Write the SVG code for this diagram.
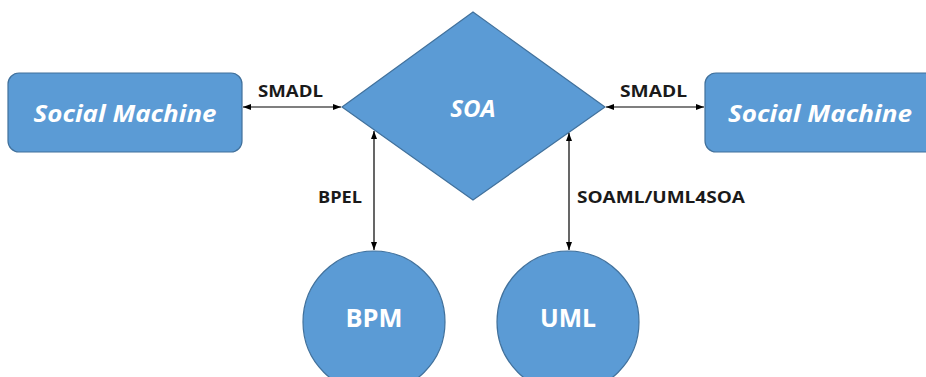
<svg xmlns="http://www.w3.org/2000/svg" width="926" height="377" viewBox="0 0 926 377">
<style>
.shape{fill:#5b9bd5;stroke:#41719c;stroke-width:1.2}
.title{font-family:"Open Sans","Liberation Sans",sans-serif;font-weight:bold;font-style:italic;fill:#fff;text-anchor:middle}
.circ{font-family:"Open Sans","Liberation Sans",sans-serif;font-weight:bold;fill:#fff;text-anchor:middle;font-size:25px}
.lbl{font-family:"Open Sans","Liberation Sans",sans-serif;font-weight:bold;fill:#1a1a1a;font-size:16px}
.conn{stroke:#000;stroke-width:1.2;fill:none;marker-start:url(#arr);marker-end:url(#arr)}
</style>
<defs>
<marker id="arr" viewBox="0 0 8 6" refX="8" refY="3" markerWidth="8" markerHeight="6" markerUnits="userSpaceOnUse" orient="auto-start-reverse">
<path d="M0,0 L8,3 L0,6 z" fill="#000"/>
</marker>
</defs>
<rect width="926" height="377" fill="#fff"/>
<g id="sm-left">
<rect class="shape" x="8" y="73" width="234" height="79" rx="11"/>
<text class="title" x="125" y="122" font-size="23" textLength="183" lengthAdjust="spacingAndGlyphs">Social Machine</text>
</g>
<g id="soa">
<polygon class="shape" points="473,12 605,107 473,200 342,107"/>
<text class="title" x="473" y="117" font-size="24">SOA</text>
</g>
<g id="sm-right">
<rect class="shape" x="705" y="73" width="234" height="79" rx="11"/>
<text class="title" x="820" y="122" font-size="23" textLength="184" lengthAdjust="spacingAndGlyphs">Social Machine</text>
</g>
<g id="bpm">
<circle class="shape" cx="374" cy="322" r="71"/>
<text class="circ" x="374" y="327" textLength="57" lengthAdjust="spacingAndGlyphs">BPM</text>
</g>
<g id="uml">
<circle class="shape" cx="568" cy="322" r="71"/>
<text class="circ" x="568" y="327" textLength="56" lengthAdjust="spacingAndGlyphs">UML</text>
</g>
<g id="connectors">
<line class="conn" x1="243" y1="107" x2="341" y2="107"/>
<line class="conn" x1="606" y1="107" x2="704" y2="107"/>
<line class="conn" x1="374" y1="131" x2="374" y2="250"/>
<line class="conn" x1="569" y1="133" x2="569" y2="250"/>
<text class="lbl" x="258" y="97" textLength="65" lengthAdjust="spacingAndGlyphs">SMADL</text>
<text class="lbl" x="620" y="97" textLength="67" lengthAdjust="spacingAndGlyphs">SMADL</text>
<text class="lbl" x="318" y="203" textLength="44" lengthAdjust="spacingAndGlyphs">BPEL</text>
<text class="lbl" x="577" y="203" textLength="168" lengthAdjust="spacingAndGlyphs">SOAML/UML4SOA</text>
</g>
</svg>
